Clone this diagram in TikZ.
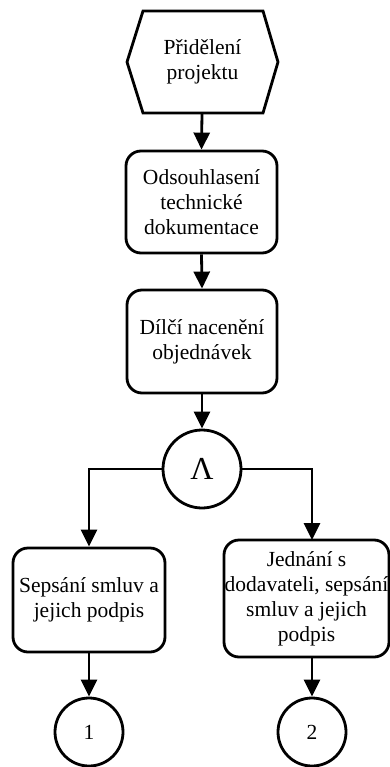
\documentclass[tikz,border=0pt]{standalone}
\usepackage{fontspec}
\setmainfont{Liberation Serif}
\newfontfamily\tnr{Liberation Serif}
\usetikzlibrary{arrows.meta}
\begin{document}
\begin{tikzpicture}[x=1pt,y=-1pt,
  line width=2.8pt,
  every node/.style={font=\tnr\fontsize{21.5}{25}\selectfont, align=center, inner sep=0pt},
  activity/.style={draw, rounded corners=15pt},
  event/.style={minimum width=151pt, minimum height=102pt},
  junction/.style={draw, circle},
  flow/.style={-{Triangle[width=16pt,length=17pt]}, line width=2.8pt}
]
\useasboundingbox (0,0) rectangle (390,767);

% start event (hexagon drawn around its text node)
\node[event] (hex) at (202.5,62) {Přidělení\\projektu};
\draw (127,62) -- (143,11) -- (263,11) -- (278,62) -- (263,113) -- (143,113) -- cycle;

% activities
\node[activity, minimum width=151pt, minimum height=102pt] (odsouh) at (201.5,202)
  {Odsouhlasení\\technické\\dokumentace};
\node[activity, minimum width=150pt, minimum height=103pt] (naceneni) at (202,341.5)
  {Dílčí nacenění\\objednávek};

% AND connector
\node[junction, minimum size=78pt, font=\tnr\fontsize{32}{36}\selectfont] (and) at (202,469) {Λ};

\node[activity, minimum width=152pt, minimum height=104pt] (smlouvy) at (89,600)
  {Sepsání smluv a\\jejich podpis};
\node[activity, minimum width=165pt, minimum height=117pt] (jednani) at (306.5,598.5)
  {Jednání s\\dodavateli, sepsání\\smluv a jejich\\podpis};

% off-page connectors
\node[junction, minimum size=68pt] (c1) at (89,732) {1};
\node[junction, minimum size=68pt] (c2) at (312,732) {2};

\coordinate (lt) at (89,469);
\coordinate (rt) at (312,469);

% connectors
\draw[flow] (202,113) -- (odsouh.north);
\draw[flow] (odsouh.south) -- (naceneni.north);
\draw[flow] (naceneni.south) -- (and.north);
\draw[flow] (and.west) -- (lt) -- (smlouvy.north);
\draw[flow] (and.east) -- (rt) -- (312,540);
\draw[flow] (smlouvy.south) -- (c1.north);
\draw[flow] (312,657) -- (c2.north);
\end{tikzpicture}
\end{document}
